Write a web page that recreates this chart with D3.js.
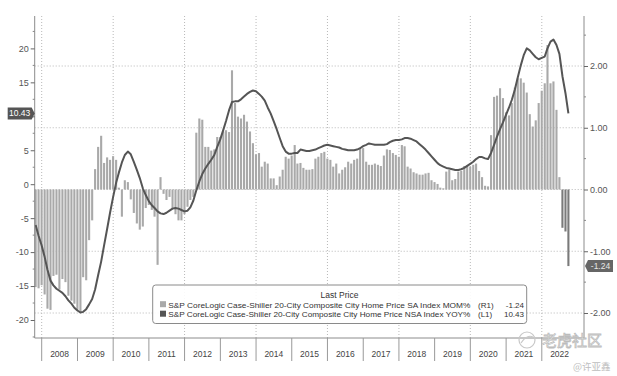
<!DOCTYPE html>
<html>
<head>
<meta charset="utf-8">
<script src="https://cdn.jsdelivr.net/npm/d3@7"></script>
<style>
  body { margin: 0; background: #fff; }
  svg { display: block; font-family: 'Liberation Sans', Arial, sans-serif; }
</style>
</head>
<body>
<div id="chart"></div>
<script>
// monthly data, Oct 2007 .. Sep 2022 (plotted at month end)
const startYear = 2007, startMonth = 9;

// MOM% SA (right axis, bars)
const mom = [
    -1.58, -1.6, -1.55,
    -1.7, -1.93, -1.95, -1.4, -1.38, -1.62, -1.45, -1.5, -1.72, -1.8, -1.85, -1.95,
    -2.0, -1.42, -1.47, -0.82, -0.5, 0.33, 0.69, 0.87, 0.43, 0.52, 0.48, 0.54,
    0.48, 0.03, -0.44, 0.15, 0.12, -0.16, -0.38, -0.55, -0.65, -0.6, -0.3, -0.25,
    -0.33, -0.44, -1.22, 0.2, -0.07, -0.17, -0.12, -0.3, -0.4, -0.5, -0.5, -0.4,
    -0.28, -0.17, -0.12, 0.92, 1.15, 1.13, 0.69, 0.69, 0.63, 0.65, 0.85, 0.85,
    0.94, 0.96, 0.93, 1.93, 1.4, 1.18, 1.15, 1.21, 1.1, 0.94, 0.75, 0.57,
    0.59, 0.37, 0.45, 0.42, 0.18, 0.18, 0.07, 0.21, 0.32, 0.53, 0.5, 0.55,
    0.72, 0.42, 0.43, 0.35, 0.32, 0.32, 0.33, 0.5, 0.53, 0.59, 0.61, 0.5,
    0.48, 0.37, 0.42, 0.26, 0.32, 0.36, 0.45, 0.42, 0.48, 0.5, 0.66, 0.67,
    0.45, 0.4, 0.4, 0.42, 0.4, 0.38, 0.55, 0.65, 0.64, 0.59, 0.56, 0.53,
    0.72, 0.7, 0.37, 0.34, 0.28, 0.26, 0.24, 0.24, 0.26, 0.27, 0.15, 0.12,
    0.09, 0.03, 0.02, 0.29, 0.32, 0.15, 0.17, 0.29, 0.3, 0.38, 0.39, 0.37,
    0.4, 0.42, 0.3, 0.2, 0.06, 0.05, 0.88, 1.5, 1.52, 1.64, 1.48, 1.25,
    1.2, 1.4, 1.65, 1.8, 1.8, 1.73, 1.57, 1.22, 1.02, 1.12, 1.4, 1.6,
    1.72, 2.34, 1.72, 1.75, 1.29, 0.2, -0.62, -0.68, -1.24
];

// YOY% NSA (left axis, line)
const yoy = [
    -6.0, -7.6, -9.0,
    -10.7, -12.6, -14.2, -14.9, -15.4, -15.7, -16.0, -16.5, -17.1, -17.6, -18.2, -18.6,
    -18.9, -18.8, -18.4, -17.7, -16.9, -15.5, -13.4, -11.4, -9.0, -6.6, -4.2, -1.9,
    0.2, 1.7, 3.2, 4.3, 4.8, 4.4, 3.3, 2.1, 0.9, -0.6, -1.6, -2.5,
    -3.1, -3.5, -4.0, -4.3, -4.4, -4.2, -3.9, -3.6, -3.5, -3.6, -3.8, -4.0,
    -3.9, -3.4, -2.4, -0.9, 0.4, 1.5, 2.3, 3.0, 3.6, 4.3, 5.5, 6.6,
    8.0, 9.3, 10.9, 12.1, 12.2, 12.2, 12.5, 12.9, 13.3, 13.6, 13.8, 13.7,
    13.3, 12.9, 12.3, 11.3, 10.4, 9.3, 8.1, 6.8, 5.6, 4.8, 4.5, 4.5,
    4.6, 4.6, 5.1, 5.0, 4.9, 4.9, 5.0, 5.1, 5.3, 5.5, 5.7, 5.8,
    5.7, 5.6, 5.5, 5.4, 5.2, 5.1, 5.0, 5.0, 5.0, 5.1, 5.3, 5.6,
    5.8, 6.0, 5.9, 5.8, 5.8, 5.8, 5.8, 5.9, 6.2, 6.4, 6.5, 6.5,
    6.6, 6.8, 6.8, 6.7, 6.5, 6.3, 5.9, 5.5, 5.1, 4.6, 4.1, 3.6,
    3.1, 2.8, 2.6, 2.4, 2.3, 2.2, 2.1, 2.1, 2.2, 2.4, 2.7, 3.0,
    3.3, 3.7, 4.0, 4.0, 3.8, 3.7, 4.6, 5.8, 7.0, 8.1, 9.1, 10.2,
    11.3, 12.4, 13.9, 15.7, 17.5, 19.0, 20.0, 19.7, 19.2, 18.7, 18.4, 18.6,
    18.8, 20.0, 21.0, 21.3, 20.5, 19.2, 15.9, 13.4, 10.43
];

const years = d3.range(2008, 2023);
const leftTicks = [-20, -15, -10, -5, 0, 5, 10, 15, 20];
const rightTicks = [-2, -1, 0, 1, 2];
const lastMom = -1.24, lastYoy = 10.43;

const legendTitle = 'Last Price';
const legendRows = [
    { name: 'S&P CoreLogic Case-Shiller 20-City Composite City Home Price SA Index MOM%', axis: '(R1)', last: '-1.24', color: '#a9a9a9' },
    { name: 'S&P CoreLogic Case-Shiller 20-City Composite City Home Price NSA Index YOY%', axis: '(L1)', last: '10.43', color: '#555' }
];

const data = mom.map((m, i) => ({
    date: new Date(startYear, startMonth + i + 1, 0),
    mom: m,
    yoy: yoy[i]
}));

const width = 617, height = 376;
const plotL = 34.7, plotR = 584, plotT = 16, plotB = 338;

const x = d3.scaleTime()
    .domain([new Date(2008, 0, 1), new Date(2023, 0, 1)])
    .range([41.7, 577.5]);
const yL = d3.scaleLinear().domain([-20, 20]).range([320, 48.4]);
const yR = d3.scaleLinear().domain([-2, 2]).range([313, 66]);

const svg = d3.select('#chart').append('svg')
    .attr('width', width)
    .attr('height', height);

// grid
const grid = svg.append('g').attr('stroke', '#b8b8b8').attr('stroke-dasharray', '1,2');
grid.selectAll('.hgrid')
    .data(rightTicks)
    .join('line')
    .attr('x1', plotL).attr('x2', plotR)
    .attr('y1', d => yR(d)).attr('y2', d => yR(d));
grid.selectAll('.vgrid')
    .data(years.filter(y => y % 2 === 0))
    .join('line')
    .attr('x1', d => x(new Date(d, 0, 1))).attr('x2', d => x(new Date(d, 0, 1)))
    .attr('y1', plotT).attr('y2', plotB);

// bars
const barW = 2.1;
svg.append('g').selectAll('rect')
    .data(data)
    .join('rect')
    .attr('x', d => x(d.date) - barW / 2)
    .attr('width', barW)
    .attr('y', d => Math.min(yR(d.mom), yR(0)))
    .attr('height', d => Math.abs(yR(d.mom) - yR(0)))
    .attr('fill', d => d.date.getFullYear() === 2022 && d.mom < 0 ? '#7a7a7a' : '#a9a9a9');

// line
const line = d3.line()
    .x(d => x(d.date))
    .y(d => yL(d.yoy));
svg.append('path')
    .datum(data)
    .attr('d', line)
    .attr('fill', 'none')
    .attr('stroke', '#555')
    .attr('stroke-width', 2)
    .attr('stroke-linejoin', 'round');

// axes lines
const axisCol = '#8c8c8c';
svg.append('line').attr('x1', plotL).attr('x2', plotL).attr('y1', plotT).attr('y2', plotB).attr('stroke', axisCol);
svg.append('line').attr('x1', plotR).attr('x2', plotR).attr('y1', plotT).attr('y2', plotB).attr('stroke', axisCol);
svg.append('line').attr('x1', plotL).attr('x2', plotR).attr('y1', plotB).attr('y2', plotB).attr('stroke', axisCol);

// left axis (the 10 label sits under the last-price tag, as in the original)
const leftAxis = svg.append('g')
    .attr('transform', `translate(${plotL},0)`)
    .call(d3.axisLeft(yL).tickValues(leftTicks).tickSize(4).tickPadding(2)
        .tickFormat(d => d === 10 ? '' : String(d)));
leftAxis.select('.domain').remove();
leftAxis.selectAll('line').attr('stroke', '#666');
leftAxis.selectAll('text').attr('fill', '#555').style('font-size', '9px');
svg.append('g').selectAll('line')
    .data(d3.range(-22.5, 25, 5))
    .join('line')
    .attr('x1', plotL - 2).attr('x2', plotL)
    .attr('y1', d => yL(d)).attr('y2', d => yL(d))
    .attr('stroke', '#888');

// right axis
const rightAxis = svg.append('g')
    .attr('transform', `translate(${plotR},0)`)
    .call(d3.axisRight(yR).tickValues(rightTicks).tickSize(4).tickPadding(2).tickFormat(d => d.toFixed(2)));
rightAxis.select('.domain').remove();
rightAxis.selectAll('line').attr('stroke', '#666');
rightAxis.selectAll('text').attr('fill', '#555').style('font-size', '9px');
svg.append('g').selectAll('line')
    .data([-1.5, -0.5, 0.5, 1.5, 2.5])
    .join('line')
    .attr('x1', plotR).attr('x2', plotR + 2)
    .attr('y1', d => yR(d)).attr('y2', d => yR(d))
    .attr('stroke', '#888');

// x axis: year separators and labels
svg.append('g').selectAll('line')
    .data(years)
    .join('line')
    .attr('x1', d => x(new Date(d, 0, 1))).attr('x2', d => x(new Date(d, 0, 1)))
    .attr('y1', plotB).attr('y2', 361)
    .attr('stroke', '#999');
svg.append('g').selectAll('text')
    .data(years)
    .join('text')
    .attr('x', d => x(new Date(d, 6, 2)))
    .attr('y', 357)
    .attr('text-anchor', 'middle')
    .attr('fill', '#444')
    .style('font-size', '8.5px')
    .text(d => d);

// last price tags
function tag(xEdge, yPos, dir, w, label, fill, textFill) {
    const h = 12, p = 3;
    const xa = xEdge + dir * p;
    const xb = xa + dir * w;
    const pts = [[xEdge, yPos], [xa, yPos - h / 2], [xb, yPos - h / 2], [xb, yPos + h / 2], [xa, yPos + h / 2]];
    svg.append('path').attr('d', d3.line()(pts) + 'Z').attr('fill', fill);
    svg.append('text')
        .attr('x', (xa + xb) / 2).attr('y', yPos)
        .attr('dy', '0.35em')
        .attr('text-anchor', 'middle')
        .attr('fill', textFill)
        .style('font-size', '8.5px')
        .text(label);
}
tag(plotL, yL(lastYoy), -1, 24, '10.43', '#555', '#fff');
tag(plotR + 1, yR(lastMom), 1, 25, '-1.24', '#666', '#e6e6e6');

// legend
const lg = svg.append('g');
lg.append('rect')
    .attr('x', 152.7).attr('y', 285).attr('width', 374).attr('height', 38.5)
    .attr('rx', 3)
    .attr('fill', '#fff').attr('fill-opacity', 0.9)
    .attr('stroke', '#8a8a8a');
lg.append('text')
    .attr('x', 339.5).attr('y', 297.5)
    .attr('text-anchor', 'middle')
    .attr('fill', '#333')
    .style('font-size', '8.5px')
    .text(legendTitle);
legendRows.forEach((r, i) => {
    const yy = 307.5 + i * 9.5;
    lg.append('rect').attr('x', 160).attr('y', yy - 6.3).attr('width', 6).attr('height', 6).attr('fill', r.color);
    lg.append('text').attr('x', 168.3).attr('y', yy)
        .attr('fill', '#333').style('font-size', '8px')
        .attr('textLength', 302).attr('lengthAdjust', 'spacingAndGlyphs')
        .text(r.name);
    lg.append('text').attr('x', 478).attr('y', yy)
        .attr('fill', '#333').style('font-size', '8px')
        .text(r.axis);
    lg.append('text').attr('x', 524).attr('y', yy)
        .attr('text-anchor', 'end')
        .attr('fill', '#333').style('font-size', '8px')
        .text(r.last);
});

// watermark
const wm = svg.append('g');
wm.append('circle').attr('cx', 527).attr('cy', 340).attr('r', 8)
    .attr('fill', 'none').attr('stroke', '#c8c8c8').attr('stroke-width', 1.2);
wm.append('path').attr('d', 'M521,343 Q527,334 533,337')
    .attr('fill', 'none').attr('stroke', '#c8c8c8').attr('stroke-width', 1.2);
wm.append('text')
    .attr('x', 542).attr('y', 346)
    .attr('fill', '#fff').attr('stroke', '#bcbcbc').attr('stroke-width', 0.8)
    .style('font-family', "'Noto Sans CJK SC', sans-serif")
    .style('font-size', '15px')
    .text('老虎社区');
wm.append('text')
    .attr('x', 573).attr('y', 370)
    .attr('fill', '#bdbdbd')
    .style('font-family', "'Noto Sans CJK SC', sans-serif")
    .style('font-size', '9.5px')
    .text('@许亚鑫');
</script>
</body>
</html>
